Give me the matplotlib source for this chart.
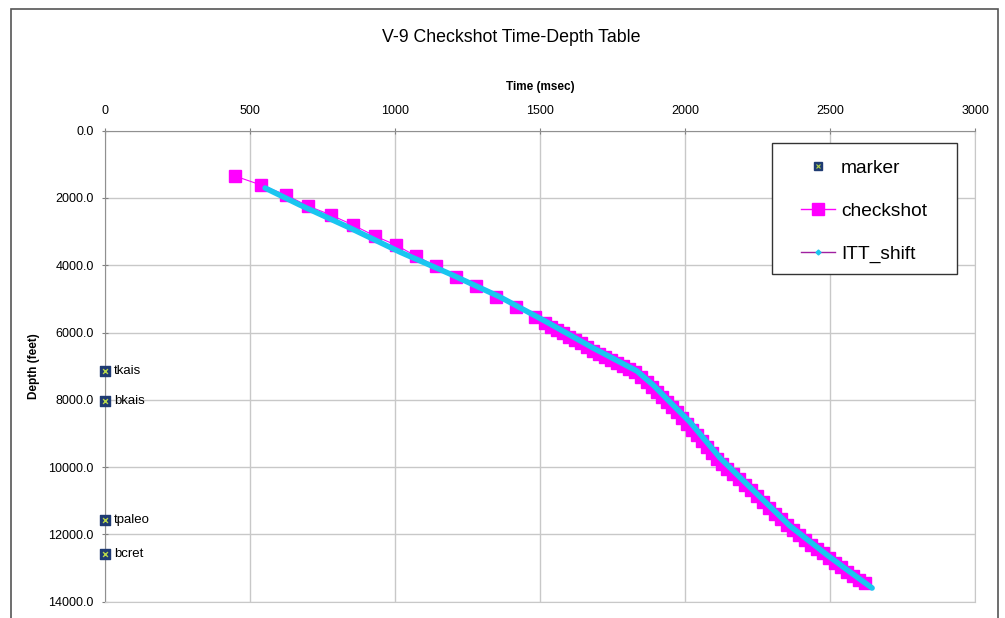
"""Recreate the V-9 checkshot time-depth chart."""

import matplotlib.pyplot as plt
from matplotlib.lines import Line2D
from matplotlib.patches import Rectangle

plt.rcParams["font.family"] = ["Liberation Sans", "DejaVu Sans"]

# checkshot survey: two-way time (msec) vs depth (feet)
checkshot_time = [
    448, 538, 624, 700, 779, 855, 931, 1003, 1072, 1141, 1210, 1279, 1348,
    1417, 1483,
    1517, 1538, 1559, 1579, 1600, 1621, 1641, 1662, 1683, 1703, 1724, 1745,
    1766, 1786, 1807, 1828, 1848, 1869, 1886, 1903, 1921, 1938, 1955, 1972,
    1990, 2007, 2024, 2041, 2059, 2076, 2093, 2110, 2128, 2145, 2166, 2186,
    2207, 2228, 2248, 2269, 2290, 2310, 2331, 2352, 2372, 2393, 2414, 2434,
    2455, 2476, 2497, 2517, 2538, 2559, 2579, 2600, 2621,
]
checkshot_depth = [
    1347, 1614, 1911, 2238, 2506, 2803, 3130, 3398, 3725, 4022, 4349, 4616,
    4943, 5241, 5538,
    5716, 5835, 5924, 6013, 6132, 6221, 6311, 6430, 6548, 6637, 6727, 6816,
    6905, 6994, 7083, 7173, 7321, 7470, 7619, 7767, 7916, 8065, 8213, 8362,
    8540, 8718, 8897, 9045, 9224, 9402, 9581, 9759, 9908, 10056, 10205, 10354,
    10532, 10681, 10860, 11038, 11216, 11395, 11543, 11722, 11871, 12018,
    12167, 12315, 12434, 12553, 12702, 12850, 12969, 13118, 13237, 13356,
    13445,
]

# ITT_shift curve
itt_time = [552, 672, 845, 1017, 1190, 1362, 1517, 1683, 1834, 1890, 1948,
            2017, 2121, 2234, 2362, 2490, 2569, 2645]
itt_depth = [1703, 2208, 2892, 3606, 4259, 4943, 5657, 6459, 7143, 7559,
             8065, 8659, 9729, 10681, 11751, 12613, 13118, 13594]

# formation tops
marker_names = ["tkais", "bkais", "tpaleo", "bcret"]
marker_time = [0, 0, 0, 0]
marker_depth = [7143, 8035, 11573, 12583]

x_ticks = [0, 500, 1000, 1500, 2000, 2500, 3000]
y_ticks = [0, 2000, 4000, 6000, 8000, 10000, 12000, 14000]

MAGENTA = "#ff00ff"
CYAN = "#19c6f0"
NAVY = "#1f3b73"
MARK_X = "#b8d84a"
GRID = "#c8c8c8"


def main():
    fig = plt.figure(figsize=(10.05, 6.18), dpi=100)
    ax = fig.add_axes([0.1045, 0.0264, 0.8657, 0.7621])

    # outer chart frame
    fig.patches.append(Rectangle((0.0105, -0.05), 0.983, 1.036,
                                 transform=fig.transFigure, fill=False,
                                 edgecolor="#555555", linewidth=1.2))

    ax.plot(checkshot_time, checkshot_depth, color=MAGENTA, linewidth=0.8,
            marker="s", markersize=8.5, markerfacecolor=MAGENTA,
            markeredgecolor=MAGENTA, zorder=3)
    ax.plot(itt_time, itt_depth, color=CYAN, linewidth=4,
            solid_capstyle="round", zorder=4)

    ax.scatter(marker_time, marker_depth, marker="s", s=42, color=NAVY,
               zorder=5, clip_on=False)
    ax.scatter(marker_time, marker_depth, marker="x", s=12, color=MARK_X,
               linewidths=1, zorder=6, clip_on=False)
    for name, t, d in zip(marker_names, marker_time, marker_depth):
        ax.text(t + 30, d, name, fontsize=9.5, va="center", ha="left",
                zorder=6)

    ax.set_xlim(0, 3000)
    ax.set_ylim(14000, 0)
    ax.set_xticks(x_ticks)
    ax.set_yticks(y_ticks)
    ax.set_yticklabels([f"{v:.1f}" for v in y_ticks])
    ax.xaxis.tick_top()
    ax.xaxis.set_label_position("top")
    ax.tick_params(axis="both", labelsize=9, color="#808080", length=4,
                   direction="inout", pad=6)
    ax.tick_params(axis="x", pad=8)
    ax.grid(True, color=GRID, linewidth=1)
    for side in ["left", "top"]:
        ax.spines[side].set_color("#909090")
    for side in ["right", "bottom"]:
        ax.spines[side].set_color(GRID)

    ax.set_xlabel("Time (msec)", fontsize=8.5, fontweight="bold", labelpad=11)
    ax.set_ylabel("Depth (feet)", fontsize=8.5, fontweight="bold",
                  labelpad=6)
    fig.text(0.5085, 0.94, "V-9 Checkshot Time-Depth Table", fontsize=12.8,
             ha="center", va="center")

    # legend box drawn separately so it can be wider than its contents
    ax.add_patch(Rectangle((0.7667, 0.6958), 0.2126, 0.2781,
                           transform=ax.transAxes, facecolor="white",
                           edgecolor="#333333", linewidth=1, zorder=7))

    marker_sq = Line2D([], [], linestyle="none", marker="s", markersize=6,
                       markerfacecolor=NAVY, markeredgecolor=NAVY)
    marker_x = Line2D([], [], linestyle="none", marker="x", markersize=3,
                      markeredgecolor=MARK_X, markeredgewidth=0.8)
    handles = [
        (marker_sq, marker_x),
        Line2D([], [], color=MAGENTA, linewidth=1, marker="s",
               markersize=8, markerfacecolor=MAGENTA,
               markeredgecolor=MAGENTA),
        Line2D([], [], color="#a020a0", linewidth=1, marker="D",
               markersize=2.5, markerfacecolor=CYAN, markeredgecolor=CYAN),
    ]
    leg = ax.legend(handles, ["marker", "checkshot", "ITT_shift"],
                    loc="upper left", bbox_to_anchor=(0.8, 0.9395),
                    fontsize=13.8, frameon=False, labelspacing=1.35,
                    handlelength=1.76, handletextpad=0.32,
                    borderpad=0, borderaxespad=0)
    leg.set_zorder(8)

    fig.savefig("out.png", dpi=100)


if __name__ == "__main__":
    main()
